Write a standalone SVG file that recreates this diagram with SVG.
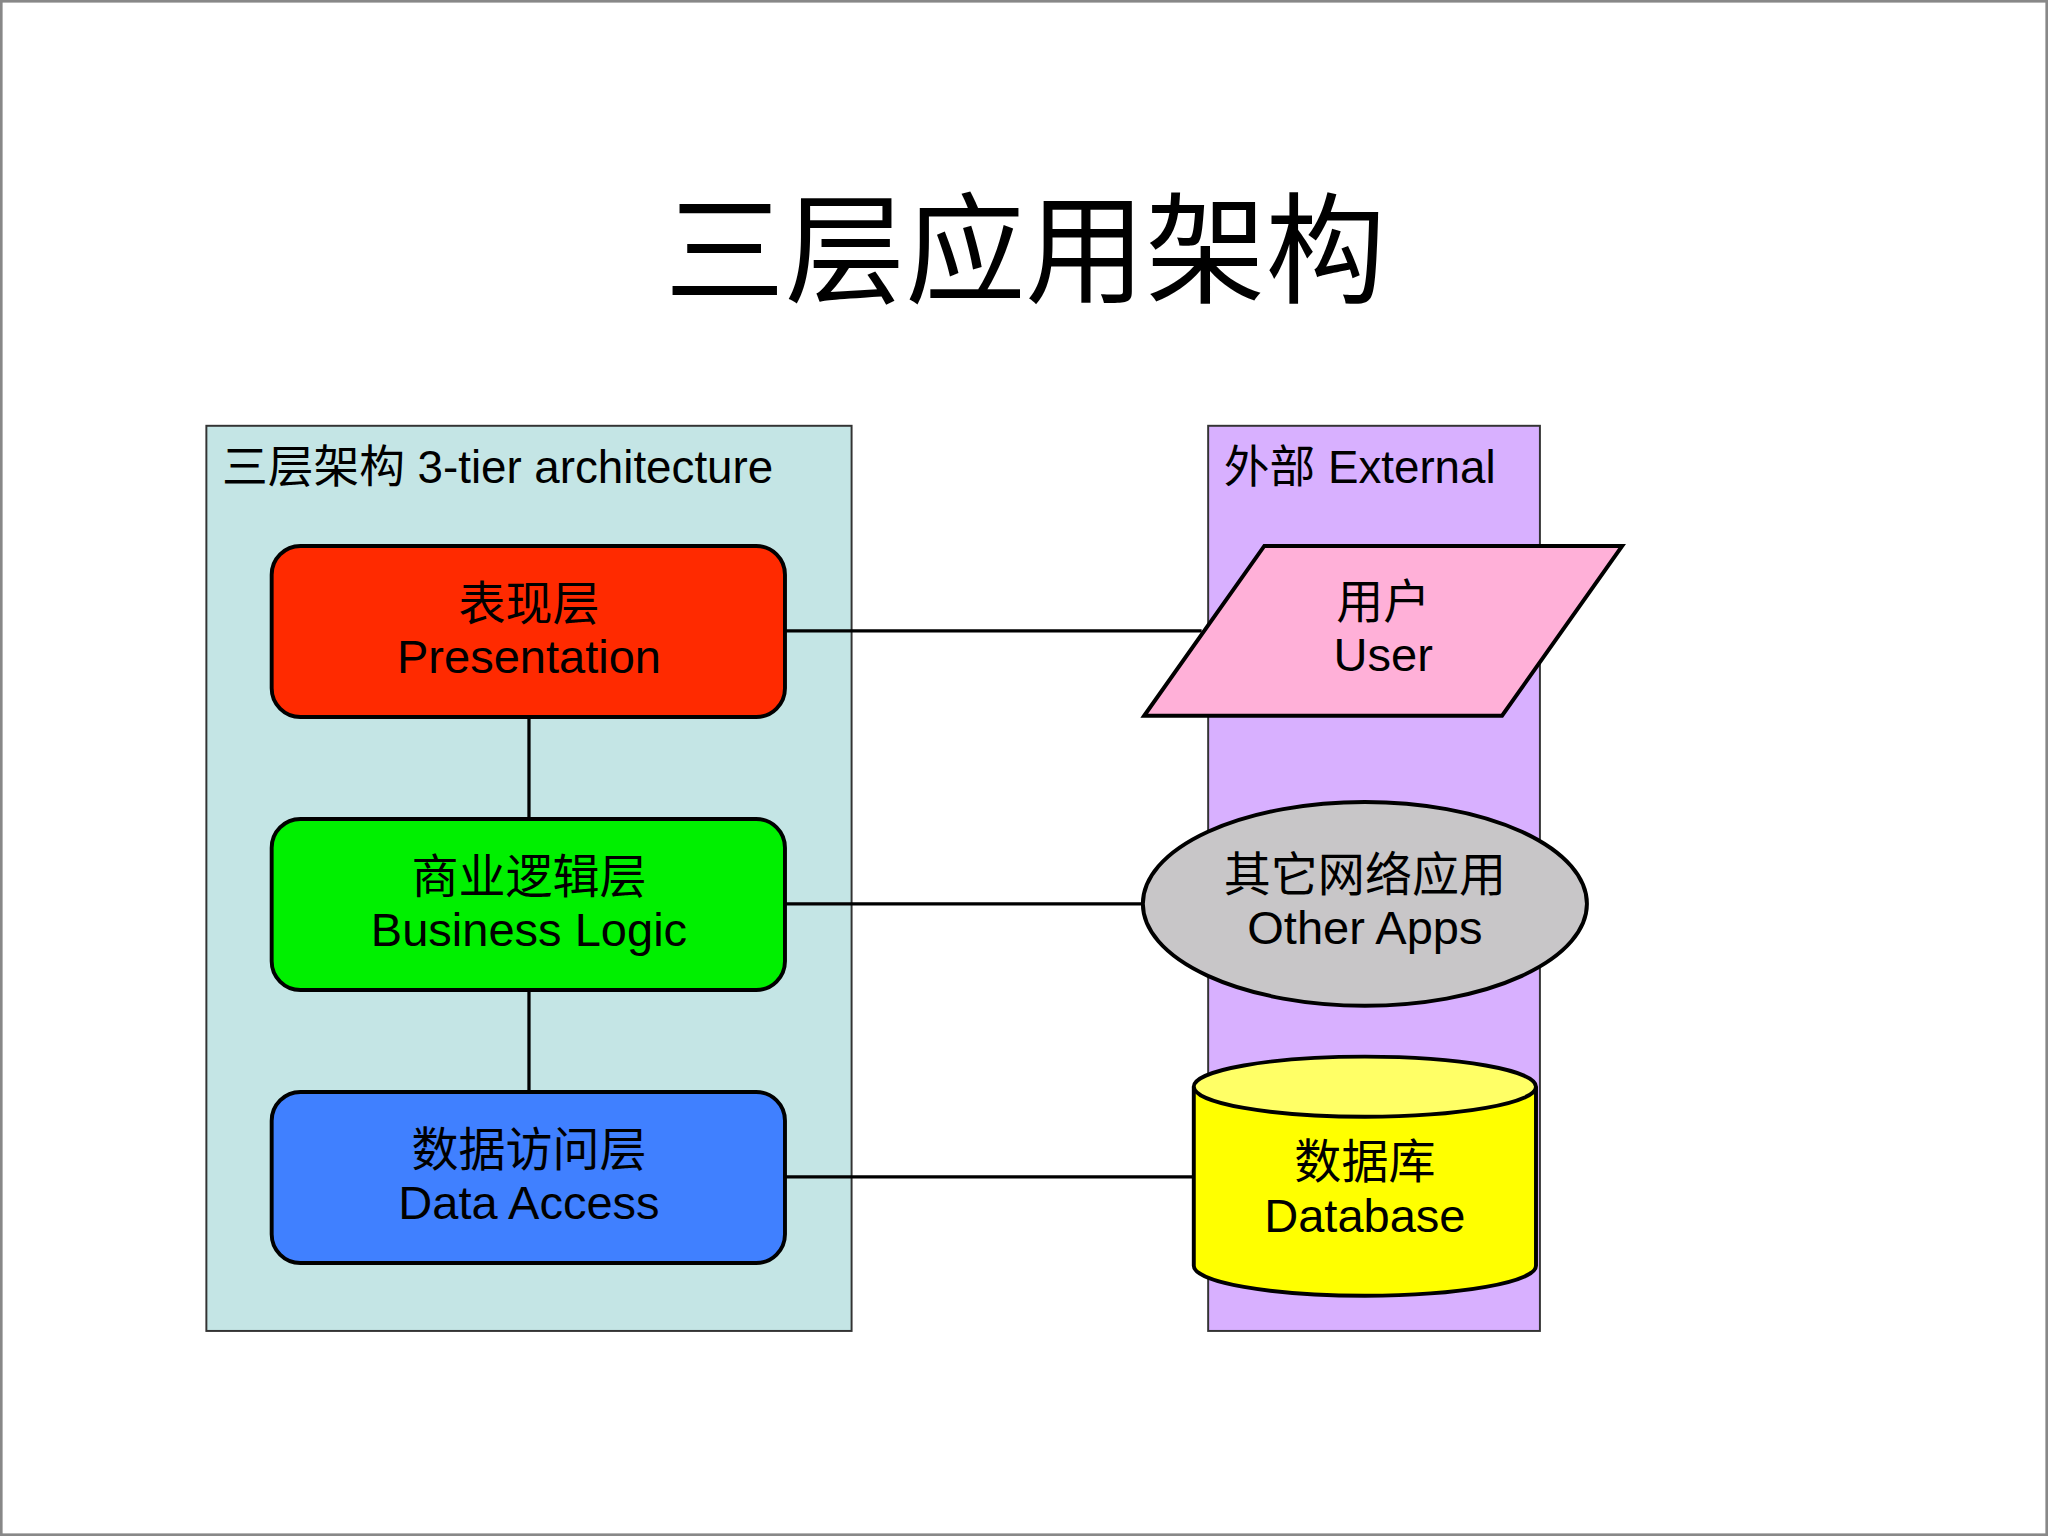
<svg xmlns="http://www.w3.org/2000/svg" width="2048" height="1536" viewBox="0 0 2048 1536">
<style>
.t{font-family:"Liberation Sans","Noto Sans CJK SC",sans-serif;fill:#000}
.c{text-anchor:middle;font-size:36px}
.n{stroke:#000;stroke-width:3}
.ln{stroke:#000;stroke-width:2.5;fill:none}
</style>
<rect x="0" y="0" width="2048" height="1536" fill="#fff"/>
<g transform="scale(1.30612)">
<rect x="1" y="1" width="1566" height="1174" fill="#fff" stroke="#888" stroke-width="2"/>
<text class="t" x="785" y="225" text-anchor="middle" font-size="92">三层应用架构</text>
<g id="tier"><rect x="158" y="326" width="494" height="693" fill="#c4e5e5" stroke="#333" stroke-width="1.5"/>
<text class="t" x="170" y="370" font-size="35">三层架构 3-tier architecture</text></g>
<g id="external"><rect x="925" y="326" width="254" height="693" fill="#d8b0ff" stroke="#333" stroke-width="1.5"/>
<text class="t" x="937" y="370" font-size="35">外部 External</text></g>
<g id="connectors">
<line class="ln" x1="405" y1="549" x2="405" y2="627"/>
<line class="ln" x1="405" y1="758" x2="405" y2="836"/>
<line class="ln" x1="601" y1="483" x2="920" y2="483"/>
<line class="ln" x1="601" y1="692" x2="875" y2="692"/>
<line class="ln" x1="601" y1="901" x2="914" y2="901"/>
</g>
<g id="presentation"><rect class="n" x="208" y="418" width="393" height="131" rx="22" fill="#ff2a00"/>
<text class="t c" x="405" y="475">表现层</text><text class="t c" x="405" y="515">Presentation</text></g>
<g id="business"><rect class="n" x="208" y="627" width="393" height="131" rx="22" fill="#00f000"/>
<text class="t c" x="405" y="684">商业逻辑层</text><text class="t c" x="405" y="724">Business Logic</text></g>
<g id="data"><rect class="n" x="208" y="836" width="393" height="131" rx="22" fill="#4080ff"/>
<text class="t c" x="405" y="893">数据访问层</text><text class="t c" x="405" y="933">Data Access</text></g>
<g id="user"><polygon class="n" points="876,548 968,418 1242,418 1150,548" fill="#ffb0d8"/>
<text class="t c" x="1059" y="473">用户</text><text class="t c" x="1059" y="514">User</text></g>
<g id="apps"><ellipse class="n" cx="1045" cy="692" rx="170" ry="78" fill="#c8c6c8"/>
<text class="t c" x="1045" y="682">其它网络应用</text><text class="t c" x="1045" y="723">Other Apps</text></g>
<g id="db"><path class="n" d="M914,832 L914,969 A131,23 0 0 0 1176,969 L1176,832" fill="#ffff00"/>
<ellipse class="n" cx="1045" cy="832" rx="131" ry="23" fill="#ffff66"/>
<text class="t c" x="1045" y="902">数据库</text><text class="t c" x="1045" y="943">Database</text></g>
</g>
</svg>
